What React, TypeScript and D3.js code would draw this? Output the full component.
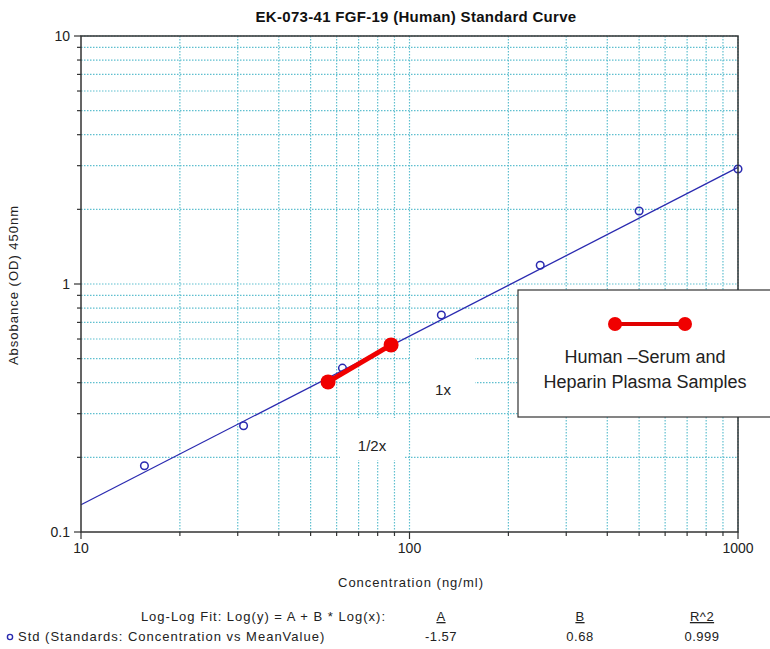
import React from "react";
import * as d3 from "d3";

const stdConc = [15.6, 31.25, 62.5, 125, 250, 500, 1000];
const stdOD = [0.185, 0.268, 0.458, 0.75, 1.19, 1.97, 2.91];
const sampleConc = [56.5, 87.9];
const sampleOD = [0.403, 0.568];
const fitA = -1.57;
const fitB = 0.68;
const xTickLabels = ["10", "100", "1000"];
const yTickLabels = ["0.1", "1", "10"];
const legendLines = ["Human \u2013Serum and", "Heparin Plasma Samples"];
const fitHeaders = ["A", "B", "R^2"];
const fitRow = ["-1.57", "0.68", "0.999"];

const W = 770, H = 649;
const L = 81, R = 738, T = 36, B = 532;
const FONT = "'Liberation Sans', Arial, sans-serif";

export default function App() {
  const x = d3.scaleLog().domain([10, 1000]).range([L, R]);
  const y = d3.scaleLog().domain([0.1, 10]).range([B, T]);
  const xGrid: number[] = [];
  for (const d of [10, 100]) for (let k = 2; k <= 10; k++) xGrid.push(d * k);
  const yGrid: number[] = [];
  for (const d of [0.1, 1]) for (let k = 2; k <= 10; k++) yGrid.push(d * k);
  const fitLine = d3.line<number>().x((c) => x(c)).y((c) => y(Math.pow(10, fitA + fitB * Math.log10(c))));
  const grid = "#5fbfcf";
  const axis = "#333";
  const blue = "#2a2ab0";
  const red = "#f00000";
  const txt = "#222";
  const cols = [441, 580, 702];
  return (
    <svg width={W} height={H} style={{ position: "absolute", left: 0, top: 0, background: "#fff" }} fontFamily={FONT}>
      <rect x={0} y={0} width={W} height={H} fill="#fff" />
      <text x={416} y={22} textAnchor="middle" fontSize={15} fontWeight="bold" letterSpacing={0.3} fill="#111">EK-073-41 FGF-19 (Human) Standard Curve</text>
      {xGrid.map((v, i) => (
        <line key={"xg" + i} x1={x(v)} x2={x(v)} y1={T} y2={B} stroke={grid} strokeWidth={1.2} strokeDasharray="1.5,1.5" />
      ))}
      {yGrid.map((v, i) => (
        <line key={"yg" + i} x1={L} x2={R} y1={y(v)} y2={y(v)} stroke={grid} strokeWidth={1.2} strokeDasharray="1.5,1.5" />
      ))}
      <rect x={410} y={350} width={65} height={55} fill="#fff" />
      <rect x={340} y={418} width={65} height={42} fill="#fff" />
      <path d={fitLine([10, 1000]) || ""} fill="none" stroke={blue} strokeWidth={1.3} />
      {stdConc.map((c, i) => (
        <circle key={"p" + i} cx={x(c)} cy={y(stdOD[i])} r={3.8} fill="none" stroke={blue} strokeWidth={1.5} />
      ))}
      <line x1={x(sampleConc[0])} y1={y(sampleOD[0])} x2={x(sampleConc[1])} y2={y(sampleOD[1])} stroke={red} strokeWidth={5} />
      {sampleConc.map((c, i) => (
        <circle key={"s" + i} cx={x(c)} cy={y(sampleOD[i])} r={7.5} fill={red} />
      ))}
      <text x={443} y={395} textAnchor="middle" fontSize={15} fill={txt}>1x</text>
      <text x={372} y={451} textAnchor="middle" fontSize={15} fill={txt}>1/2x</text>
      <rect x={L} y={T} width={R - L} height={B - T} fill="none" stroke={axis} strokeWidth={1.5} />
      {xGrid.concat([10]).map((v, i) => {
        const major = [10, 100, 1000].includes(v);
        return <line key={"xt" + i} x1={x(v)} x2={x(v)} y1={B} y2={B + (major ? 7 : 4)} stroke={axis} strokeWidth={1.2} />;
      })}
      {yGrid.concat([0.1]).map((v, i) => {
        const major = [0.1, 1, 10].some((m) => Math.abs(m - v) < 1e-9);
        return <line key={"yt" + i} x1={L - (major ? 7 : 4)} x2={L} y1={y(v)} y2={y(v)} stroke={axis} strokeWidth={1.2} />;
      })}
      {xTickLabels.map((t, i) => (
        <text key={"xl" + i} x={x(+t)} y={553} textAnchor="middle" fontSize={14} fill={txt}>{t}</text>
      ))}
      {yTickLabels.map((t, i) => (
        <text key={"yl" + i} x={70} y={y(+t) + 5} textAnchor="end" fontSize={14} fill={txt}>{t}</text>
      ))}
      <text transform={`translate(18,${285}) rotate(-90)`} textAnchor="middle" fontSize={13} letterSpacing={1} fill={txt}>Absobance (OD) 450nm</text>
      <text x={411} y={587} textAnchor="middle" fontSize={13} letterSpacing={1} fill={txt}>Concentration (ng/ml)</text>
      <rect x={518} y={290} width={260} height={127} fill="#fff" stroke={axis} strokeWidth={1.2} />
      <line x1={615} x2={685} y1={324} y2={324} stroke="#e00000" strokeWidth={4} />
      <circle cx={615} cy={324} r={7} fill={red} />
      <circle cx={685} cy={324} r={7} fill={red} />
      {legendLines.map((t, i) => (
        <text key={"lg" + i} x={645} y={363 + i * 25} textAnchor="middle" fontSize={18} fill={txt}>{t}</text>
      ))}
      <text x={386} y={621} textAnchor="end" fontSize={13} letterSpacing={1} fill={txt}>Log-Log Fit: Log(y) = A + B * Log(x):</text>
      {fitHeaders.map((t, i) => (
        <text key={"h" + i} x={cols[i]} y={621} textAnchor="middle" fontSize={13} letterSpacing={0.5} fill={txt} textDecoration="underline">{t}</text>
      ))}
      <circle cx={10} cy={637} r={2.6} fill="none" stroke={blue} strokeWidth={1.4} />
      <text x={18} y={641} fontSize={13} letterSpacing={1} fill={txt}>Std (Standards: Concentration vs MeanValue)</text>
      {fitRow.map((t, i) => (
        <text key={"r" + i} x={cols[i]} y={641} textAnchor="middle" fontSize={13} letterSpacing={0.5} fill={txt}>{t}</text>
      ))}
    </svg>
  );
}
